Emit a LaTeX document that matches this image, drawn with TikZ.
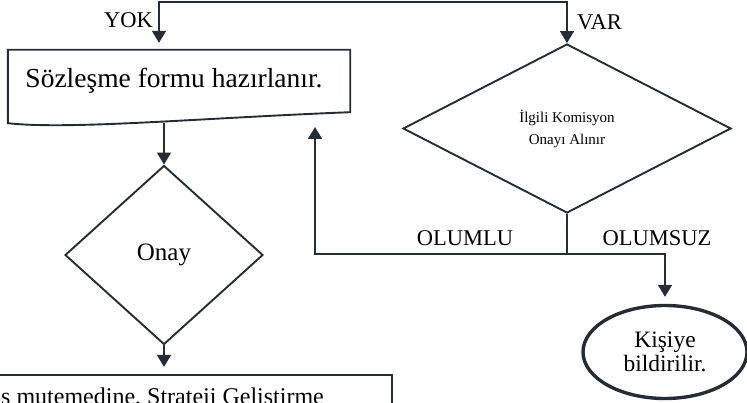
\documentclass[tikz,border=0pt]{standalone}
\usepackage{fontspec}
\setmainfont{Liberation Serif}
\usetikzlibrary{shapes.geometric,arrows.meta}
\definecolor{koyu}{RGB}{38,44,52}
\begin{document}
\begin{tikzpicture}[x=1pt,y=-1pt,
        ok/.style={-{Triangle[length=12pt,width=14pt]},line width=1.7pt,draw=koyu},
        karar/.style={diamond,draw=koyu,line width=1.9pt,inner sep=0pt,align=center},
        yazi/.style={inner sep=0pt,font=\fontsize{22.5}{26}\selectfont}]
        \useasboundingbox (0,0) rectangle (747,403);
        \clip (0,0) rectangle (747,403);
        \node[rectangle,minimum width=342pt,minimum height=73pt,inner sep=0pt,text height=14pt,text depth=11pt,font=\fontsize{27.5}{32}\selectfont] (form) at (179,86.5) {Sözleşme formu hazırlanır.\hspace*{10pt}};
        \draw[koyu,line width=1.9pt] (form.north west) -- (form.north east) -- ([yshift=11pt]form.south east) .. controls (200,118) and (70,130) .. (form.south west) -- cycle;
        \node[karar,minimum width=198pt,minimum height=179pt,font=\fontsize{25}{30}\selectfont] (onay) at (164,255) {Onay};
        \node[karar,minimum width=328pt,minimum height=169pt,font=\fontsize{15}{22}\selectfont] (komisyon) at (567,128.5) {İlgili Komisyon\\Onayı Alınır};
        \node[ellipse,draw=koyu,line width=3.4pt,minimum width=164pt,minimum height=93pt,inner sep=0pt,align=center,font=\fontsize{23.5}{24}\selectfont] (kisi) at (665,352) {Kişiye\\bildirilir.};
        \node[rectangle,draw=koyu,line width=2.2pt,minimum width=452pt,minimum height=85pt] (mutemet) at (166,417.5) {};
        \node[anchor=base west,inner sep=0pt,font=\fontsize{24}{28}\selectfont] (mutemetyazi) at (1,404) {s mutemedine, Strateji Geliştirme};
        \node[yazi,anchor=east] (yok) at (153,20) {YOK};
        \node[yazi,anchor=west] (var) at (577,22) {VAR};
        \node[yazi] (olumlu) at (465,238) {OLUMLU};
        \node[yazi] (olumsuz) at (657,238) {OLUMSUZ};
        \coordinate (ust) at (360,2);
        \coordinate (ayrim) at (567,254);
        \coordinate (geri) at (315,127);
        \draw[ok,shorten >=7pt] (ust) -| ([xshift=-20pt]form.north);
        \draw[ok] (ust) -| (komisyon.north);
        \draw[ok] (form.south -| onay.north) -- (onay.north);
        \draw[ok,shorten >=7pt] (onay.south) -- (onay.south |- mutemet.north);
        \draw[koyu,line width=1.7pt] (komisyon.south) -- (ayrim);
        \draw[ok] (ayrim) -| (geri);
        \draw[ok,shorten >=7pt] (ayrim) -| (kisi.north);
    \end{tikzpicture}
\end{document}
